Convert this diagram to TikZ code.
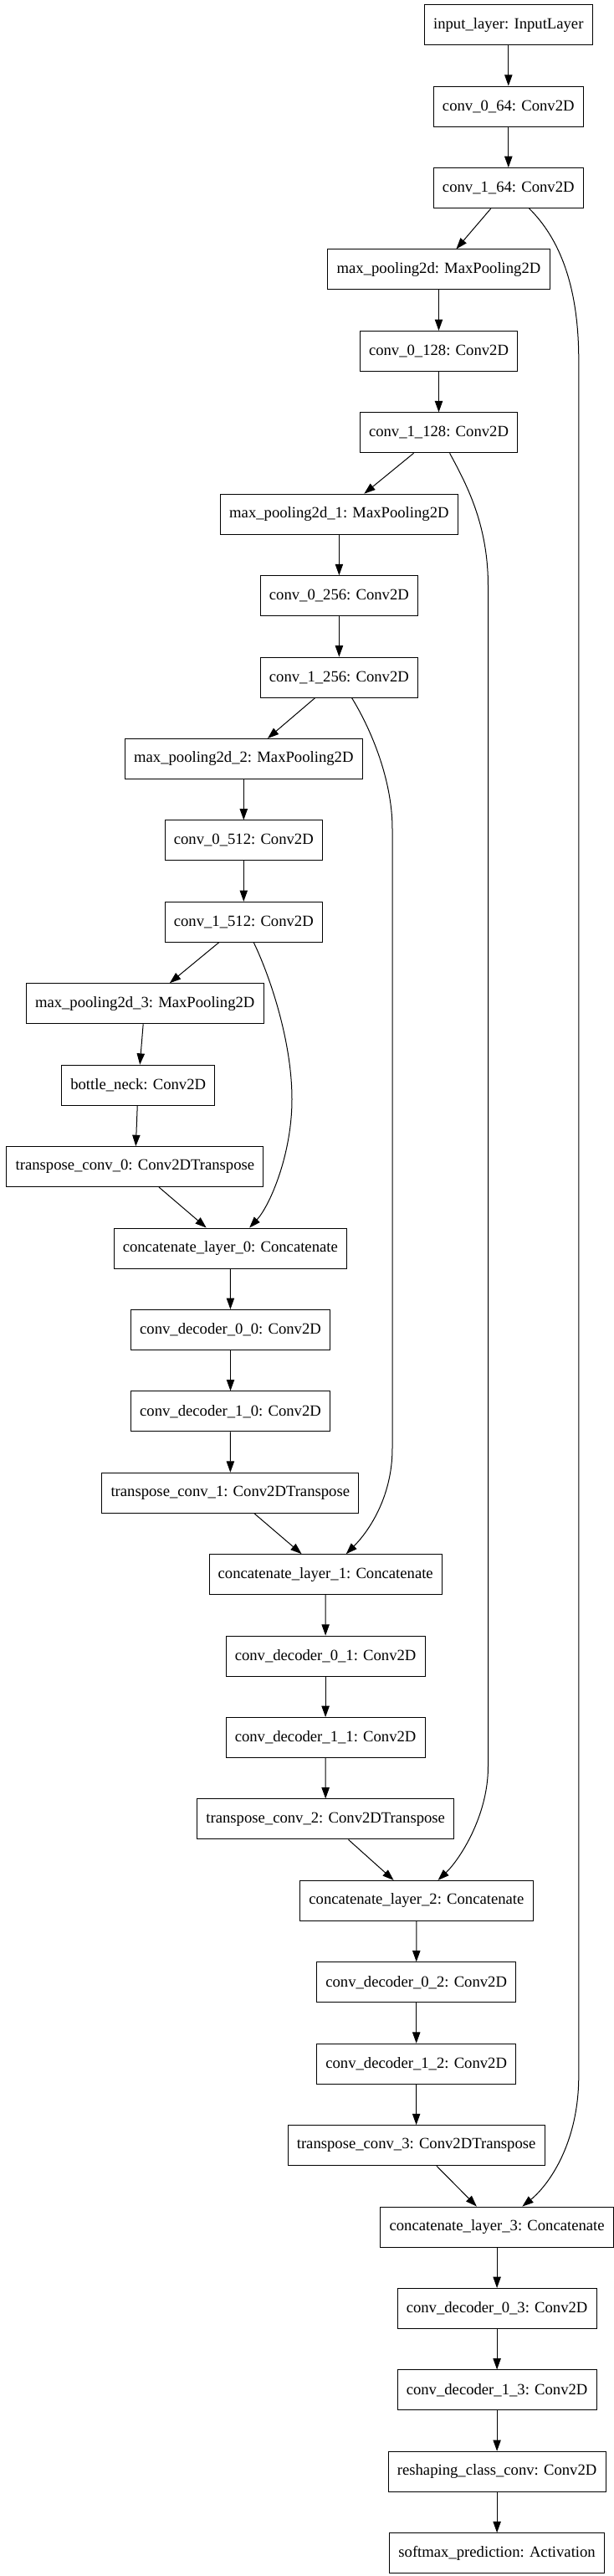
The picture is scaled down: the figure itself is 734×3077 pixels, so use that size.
\documentclass[tikz,border=0pt]{standalone}
\usepackage{fontspec}
\setmainfont{Liberation Serif}
\usetikzlibrary{arrows.meta}

\tikzset{
  layer/.style={draw, rectangle, line width=0.75pt, minimum height=36pt,
    inner xsep=8pt, font=\fontsize{14pt}{16pt}\selectfont},
  flow/.style={->, line width=0.75pt},
  >={Triangle[length=10pt,width=7pt]}
}

\begin{document}
\begin{tikzpicture}[x=0.75pt, y=-0.75pt]
\useasboundingbox (0,0) rectangle (734,3077);
% one layer per row
\foreach \n/\x/\t [count=\i from 0] in {
  input/607.8/input\_layer: InputLayer,
  c064/607.8/conv\_0\_64: Conv2D,
  c164/607.8/conv\_1\_64: Conv2D,
  mp0/524.5/max\_pooling2d: MaxPooling2D,
  c0128/524.5/conv\_0\_128: Conv2D,
  c1128/524.5/conv\_1\_128: Conv2D,
  mp1/405.4/max\_pooling2d\_1: MaxPooling2D,
  c0256/405.4/conv\_0\_256: Conv2D,
  c1256/405.4/conv\_1\_256: Conv2D,
  mp2/291.3/max\_pooling2d\_2: MaxPooling2D,
  c0512/291.3/conv\_0\_512: Conv2D,
  c1512/291.3/conv\_1\_512: Conv2D,
  mp3/173.2/max\_pooling2d\_3: MaxPooling2D,
  neck/165.2/bottle\_neck: Conv2D,
  tc0/161.4/transpose\_conv\_0: Conv2DTranspose,
  cat0/275.3/concatenate\_layer\_0: Concatenate,
  d00/275.5/conv\_decoder\_0\_0: Conv2D,
  d10/275.5/conv\_decoder\_1\_0: Conv2D,
  tc1/275.3/transpose\_conv\_1: Conv2DTranspose,
  cat1/389.2/concatenate\_layer\_1: Concatenate,
  d01/389.1/conv\_decoder\_0\_1: Conv2D,
  d11/389.1/conv\_decoder\_1\_1: Conv2D,
  tc2/389.2/transpose\_conv\_2: Conv2DTranspose,
  cat2/497.9/concatenate\_layer\_2: Concatenate,
  d02/497.7/conv\_decoder\_0\_2: Conv2D,
  d12/497.7/conv\_decoder\_1\_2: Conv2D,
  tc3/497.6/transpose\_conv\_3: Conv2DTranspose,
  cat3/594.1/concatenate\_layer\_3: Concatenate,
  d03/594.1/conv\_decoder\_0\_3: Conv2D,
  d13/594.1/conv\_decoder\_1\_3: Conv2D,
  reshape/594.1/reshaping\_class\_conv: Conv2D,
  softmax/594.1/softmax\_prediction: Activation} {
  \node[layer] (\n) at (\x,{29.7+97.42*\i}) {\t};
}
% main chain
\foreach \n [remember=\n as \prev (initially input)] in {c064,c164,mp0,c0128,
  c1128,mp1,c0256,c1256,mp2,c0512,c1512,mp3,neck,tc0,cat0,d00,d10,tc1,cat1,
  d01,d11,tc2,cat2,d02,d12,tc3,cat3,d03,d13,reshape,softmax}
  \draw[flow] (\prev) -- (\n);
% skip connections
\draw[flow] (c1512) .. controls (320,1160) and (349,1240) .. (349,1313)
  .. controls (349,1380) and (322,1441) .. (cat0);
\draw[flow] (c1256) .. controls (442.4,869) and (469,930) .. (469,990)
  -- (469,1730) .. controls (469,1790) and (439,1831) .. (cat1);
\draw[flow] (c1128) .. controls (556.7,577) and (583.5,625) .. (583.5,700)
  -- (583.5,2110) .. controls (583.5,2170) and (548.7,2222) .. (cat2);
\draw[flow] (c164) .. controls (668,284) and (691.8,340) .. (691.8,430)
  -- (691.8,2480) .. controls (691.8,2560) and (656,2610) .. (cat3);
\end{tikzpicture}
\end{document}
